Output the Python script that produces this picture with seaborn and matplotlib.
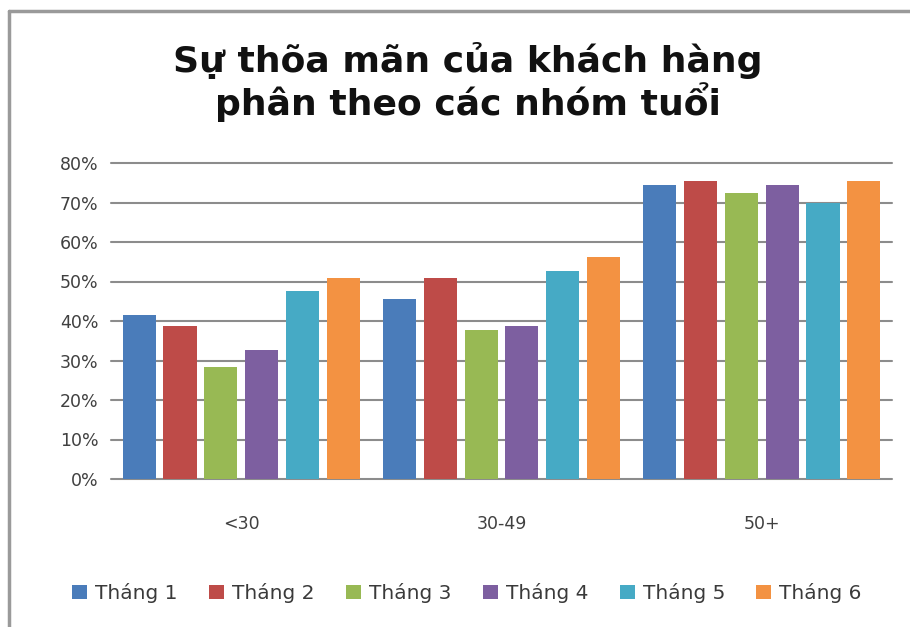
import matplotlib
matplotlib.use("Agg")
import matplotlib.pyplot as plt
from matplotlib.lines import Line2D
from matplotlib.ticker import FuncFormatter
import seaborn as sns
import pandas as pd

age_groups = ["<30", "30-49", "50+"]
months = ["Tháng 1", "Tháng 2", "Tháng 3", "Tháng 4", "Tháng 5", "Tháng 6"]
thang_1 = [41.5, 45.6, 74.4]
thang_2 = [38.8, 50.8, 75.4]
thang_3 = [28.4, 37.7, 72.3]
thang_4 = [32.7, 38.8, 74.4]
thang_5 = [47.6, 52.7, 70.0]
thang_6 = [50.8, 56.3, 75.4]
series = [thang_1, thang_2, thang_3, thang_4, thang_5, thang_6]
colors = ["#4A7CBA", "#BE4B48", "#98B954", "#7D5FA0", "#46AAC5", "#F39242"]
title_lines = ["Sự thõa mãn của khách hàng", "phân theo các nhóm tuổi"]

rows = []
for m, vals in zip(months, series):
    for g, v in zip(age_groups, vals):
        rows.append({"Nhóm tuổi": g, "Tháng": m, "Tỷ lệ": v / 100})
df = pd.DataFrame(rows)

sns.set_theme(style="white")
plt.rcParams["font.family"] = ["DejaVu Sans"]

W, H = 910, 627
fig = plt.figure(figsize=(W / 100, H / 100), dpi=100)
ax = fig.add_axes([111 / W, 1 - 479 / H, (892 - 111) / W, (479 - 163) / H])

sns.barplot(data=df, x="Nhóm tuổi", y="Tỷ lệ", hue="Tháng",
            order=age_groups, hue_order=months, palette=colors,
            width=0.94, gap=0.19, saturation=1, ax=ax, zorder=3,
            errorbar=None, linewidth=0)

ax.set_ylim(0, 0.8)
ax.set_xlim(-0.5, 2.5)
ax.set_yticks([i / 10 for i in range(9)])
ax.yaxis.set_major_formatter(FuncFormatter(lambda v, _: f"{v * 100:.0f}%"))
ax.grid(axis="y", color="#8c8c8c", linewidth=1.5, zorder=0)
for gl in ax.get_ygridlines():
    gl.set_clip_on(False)
ax.set_axisbelow(True)
for s in ax.spines.values():
    s.set_visible(False)
ax.set_xlabel("")
ax.set_ylabel("")
ax.tick_params(axis="y", length=0, pad=9, labelsize=12.5, labelcolor="#404040")
ax.tick_params(axis="x", length=0, pad=26, labelsize=12.5, labelcolor="#404040")

leg = ax.legend(loc="center", bbox_to_anchor=(467 / W, 1 - 593 / H),
                bbox_transform=fig.transFigure, ncol=6, frameon=False,
                fontsize=14.5, handlelength=0.75, handleheight=0.75,
                handletextpad=0.4, columnspacing=1.55, labelcolor="#3a3a3a")

for text, base in zip(title_lines, [72, 115]):
    fig.text(468 / W, 1 - base / H, text, ha="center", va="baseline",
             fontsize=26, fontweight="bold", color="#111111")

# outer frame (top and left edges)
fig.add_artist(Line2D([9 / W, 1], [1 - 11 / H, 1 - 11 / H], color="#9a9a9a", linewidth=2.5))
fig.add_artist(Line2D([9 / W, 9 / W], [0, 1 - 11 / H], color="#9a9a9a", linewidth=2.5))

fig.savefig("out.png", dpi=100)
